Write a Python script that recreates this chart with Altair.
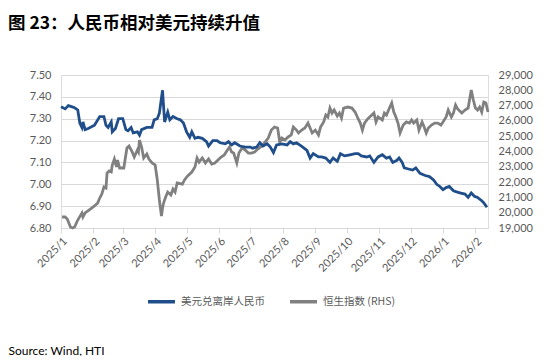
import altair as alt
import pandas as pd

usd_dates = ["2025-01-01","2025-01-05","2025-01-08","2025-01-11","2025-01-14","2025-01-17","2025-01-19","2025-01-21","2025-01-22","2025-01-24","2025-01-27","2025-02-02","2025-02-07","2025-02-11","2025-02-13","2025-02-15","2025-02-18","2025-02-19","2025-02-22","2025-02-25","2025-03-01","2025-03-04","2025-03-06","2025-03-09","2025-03-11","2025-03-15","2025-03-17","2025-03-19","2025-03-24","2025-03-29","2025-03-31","2025-04-03","2025-04-05","2025-04-08","2025-04-10","2025-04-13","2025-04-15","2025-04-18","2025-04-22","2025-04-25","2025-04-28","2025-05-01","2025-05-04","2025-05-06","2025-05-09","2025-05-12","2025-05-16","2025-05-20","2025-05-22","2025-05-26","2025-05-30","2025-06-02","2025-06-07","2025-06-10","2025-06-13","2025-06-16","2025-06-21","2025-06-26","2025-07-01","2025-07-03","2025-07-07","2025-07-10","2025-07-13","2025-07-17","2025-07-20","2025-07-23","2025-07-26","2025-07-31","2025-08-05","2025-08-08","2025-08-11","2025-08-14","2025-08-17","2025-08-20","2025-08-24","2025-08-27","2025-08-30","2025-09-04","2025-09-07","2025-09-11","2025-09-15","2025-09-18","2025-09-22","2025-09-25","2025-09-29","2025-10-04","2025-10-09","2025-10-12","2025-10-15","2025-10-20","2025-10-23","2025-10-27","2025-10-31","2025-11-04","2025-11-08","2025-11-11","2025-11-14","2025-11-18","2025-11-20","2025-11-23","2025-11-25","2025-11-29","2025-12-03","2025-12-06","2025-12-10","2025-12-15","2025-12-19","2025-12-23","2025-12-26","2025-12-29","2026-01-01","2026-01-04","2026-01-07","2026-01-11","2026-01-14","2026-01-18","2026-01-22","2026-01-25","2026-01-28","2026-01-31","2026-02-03","2026-02-07","2026-02-09","2026-02-12"]
usd_values = [7.355,7.345,7.36,7.355,7.35,7.34,7.28,7.26,7.285,7.25,7.255,7.27,7.31,7.31,7.27,7.26,7.285,7.24,7.255,7.30,7.30,7.25,7.245,7.26,7.235,7.24,7.225,7.25,7.26,7.26,7.295,7.30,7.325,7.43,7.285,7.33,7.295,7.31,7.30,7.295,7.28,7.24,7.215,7.24,7.21,7.215,7.21,7.195,7.175,7.20,7.20,7.19,7.185,7.195,7.18,7.19,7.175,7.17,7.17,7.165,7.17,7.19,7.175,7.185,7.17,7.145,7.18,7.185,7.18,7.195,7.185,7.19,7.18,7.17,7.155,7.12,7.14,7.125,7.125,7.12,7.10,7.12,7.105,7.14,7.13,7.135,7.14,7.14,7.13,7.125,7.13,7.10,7.125,7.135,7.12,7.125,7.10,7.11,7.12,7.10,7.075,7.07,7.065,7.075,7.05,7.04,7.035,7.02,7.00,6.99,6.975,6.985,6.99,6.97,6.965,6.96,6.955,6.94,6.96,6.945,6.94,6.925,6.915,6.895]

hsi_dates = ["2025-01-02","2025-01-05","2025-01-07","2025-01-10","2025-01-12","2025-01-14","2025-01-17","2025-01-21","2025-01-22","2025-01-24","2025-01-29","2025-02-02","2025-02-05","2025-02-07","2025-02-09","2025-02-11","2025-02-13","2025-02-14","2025-02-16","2025-02-18","2025-02-19","2025-02-21","2025-02-23","2025-02-24","2025-02-26","2025-03-02","2025-03-05","2025-03-07","2025-03-10","2025-03-12","2025-03-15","2025-03-16","2025-03-17","2025-03-19","2025-03-21","2025-03-24","2025-03-26","2025-03-29","2025-04-01","2025-04-03","2025-04-05","2025-04-07","2025-04-08","2025-04-09","2025-04-11","2025-04-13","2025-04-16","2025-04-18","2025-04-20","2025-04-22","2025-04-27","2025-04-29","2025-05-02","2025-05-06","2025-05-09","2025-05-11","2025-05-13","2025-05-16","2025-05-19","2025-05-22","2025-05-25","2025-05-28","2025-05-31","2025-06-03","2025-06-06","2025-06-09","2025-06-11","2025-06-13","2025-06-15","2025-06-18","2025-06-20","2025-06-23","2025-06-26","2025-06-29","2025-07-02","2025-07-05","2025-07-08","2025-07-12","2025-07-15","2025-07-18","2025-07-21","2025-07-24","2025-07-27","2025-07-29","2025-07-31","2025-08-03","2025-08-06","2025-08-09","2025-08-11","2025-08-14","2025-08-16","2025-08-19","2025-08-22","2025-08-25","2025-08-27","2025-08-29","2025-09-01","2025-09-04","2025-09-06","2025-09-09","2025-09-11","2025-09-13","2025-09-15","2025-09-17","2025-09-19","2025-09-22","2025-09-24","2025-09-26","2025-09-28","2025-10-02","2025-10-06","2025-10-09","2025-10-12","2025-10-14","2025-10-16","2025-10-18","2025-10-21","2025-10-25","2025-10-27","2025-10-29","2025-10-31","2025-11-04","2025-11-06","2025-11-08","2025-11-10","2025-11-13","2025-11-15","2025-11-17","2025-11-19","2025-11-21","2025-11-24","2025-11-27","2025-11-30","2025-12-02","2025-12-04","2025-12-07","2025-12-09","2025-12-12","2025-12-14","2025-12-16","2025-12-18","2025-12-21","2025-12-24","2025-12-27","2025-12-30","2026-01-01","2026-01-04","2026-01-06","2026-01-09","2026-01-11","2026-01-13","2026-01-15","2026-01-19","2026-01-22","2026-01-25","2026-01-28","2026-01-30","2026-02-01","2026-02-03","2026-02-05","2026-02-07","2026-02-09","2026-02-11","2026-02-13"]
hsi_values = [19720,19720,19590,19065,19000,19065,19520,19980,19720,19980,20240,20440,20630,20960,21220,21680,21610,22590,22725,22660,23120,23510,22990,23445,22920,22920,24230,24360,23970,23640,24100,23970,24750,24290,23575,23840,23510,23250,23120,22140,20830,19780,20300,20630,21030,21350,21160,21550,21350,21940,21870,22140,22400,22660,22990,23575,23310,23575,23250,23510,23180,23250,23445,23640,23770,24100,24290,23970,23900,23250,23900,24230,24100,23900,23900,23970,24160,24360,24620,24880,25400,25600,25535,24620,24880,24750,24950,25080,25600,25400,25210,25400,25535,25860,25535,25210,25400,25080,25600,25930,26385,26255,26840,26515,26710,26320,26515,26190,26840,26905,26840,26580,26125,25860,25400,25860,26125,26385,26515,25930,26255,26060,26515,26385,26710,27170,26580,26255,25860,25210,25730,25930,25860,26060,25860,26060,25400,25930,25600,25210,25535,25730,25860,25860,25730,25930,26255,26710,26255,26515,27040,26780,26515,26710,26840,28020,27365,26840,26710,26905,26580,27235,27170,26580]

SER_USD = "美元兑离岸人民币"
SER_HSI = "恒生指数 (RHS)"
series_names = [SER_USD, SER_HSI]
series_colors = ["#1F4E8A", "#808080"]
left_ticks = [6.8, 6.9, 7.0, 7.1, 7.2, 7.3, 7.4, 7.5]
right_ticks = [19000, 20000, 21000, 22000, 23000, 24000, 25000, 26000, 27000, 28000, 29000]
month_ticks = [(2025, m) for m in range(1, 13)] + [(2026, 1), (2026, 2)]

df_usd = pd.DataFrame({"date": pd.to_datetime(usd_dates), "value": usd_values, "series": SER_USD})
df_hsi = pd.DataFrame({"date": pd.to_datetime(hsi_dates), "value": hsi_values, "series": SER_HSI})

LAB = "Lato"
GREY = "#595959"

x_enc = alt.X(
    "date:T",
    scale=alt.Scale(domain=[alt.DateTime(year=2025, month=1, date=1),
                            alt.DateTime(year=2026, month=2, date=13)]),
    axis=alt.Axis(
        values=[alt.DateTime(year=y, month=m, date=1) for y, m in month_ticks],
        format="%Y/%-m", labelAngle=-45, labelFont=LAB, labelFontSize=11,
        labelColor=GREY, domainColor="#D9D9D9", tickColor="#D9D9D9", tickSize=5,
        grid=False, labelPadding=2, labelOverlap=False, labelFlush=False,
        title="Source: Wind, HTI", titleX=-53, titleY=126, titleAlign="left",
        titleAngle=0, titleBaseline="alphabetic", titleFont=LAB, titleFontSize=12,
        titleFontWeight="normal", titleColor="#000000",
    ),
)

color_enc = alt.Color(
    "series:N",
    scale=alt.Scale(domain=series_names, range=series_colors),
    legend=alt.Legend(
        title=None, orient="none", legendX=85, legendY=211, direction="horizontal",
        symbolType="stroke", symbolStrokeWidth=3.5, symbolSize=729,
        labelFont="Noto Sans CJK SC", labelFontSize=10.5, labelColor=GREY,
        labelOffset=4, columnPadding=18, padding=0,
    ),
)

usd = alt.Chart(df_usd).mark_line(strokeWidth=2.8).encode(
    x=x_enc,
    y=alt.Y("value:Q", scale=alt.Scale(domain=[6.8, 7.5], nice=False, zero=False),
            axis=alt.Axis(values=left_ticks, format=".2f", grid=True, gridColor="#D9D9D9",
                          domain=False, ticks=False, labelPadding=10, labelFont=LAB,
                          labelFontSize=11, labelColor=GREY, title=None)),
    color=color_enc,
)

hsi = alt.Chart(df_hsi).mark_line(strokeWidth=2.8).encode(
    x=x_enc,
    y=alt.Y("value:Q", scale=alt.Scale(domain=[19000, 29000], nice=False, zero=False),
            axis=alt.Axis(orient="right", values=right_ticks, format=",.0f", grid=False,
                          domain=False, ticks=False, labelPadding=10, labelFont=LAB,
                          labelFontSize=11, labelColor=GREY, title=None)),
    color=color_enc,
)

chart = alt.layer(hsi, usd).resolve_scale(y="independent").properties(
    width=427, height=153,
    autosize=alt.AutoSizeParams(type="none"),
    padding={"left": 53, "top": 67, "right": 54, "bottom": 128},
    title=alt.TitleParams(text="图 23：人民币相对美元持续升值", anchor="start", frame="group",
                          dx=-53, offset=37, font="Noto Sans CJK SC", fontSize=17.5,
                          fontWeight="bold", color="#000000"),
).configure_view(strokeWidth=0).configure(background="white")

chart.save("out.html", embed_options={"renderer": "svg", "actions": False})
